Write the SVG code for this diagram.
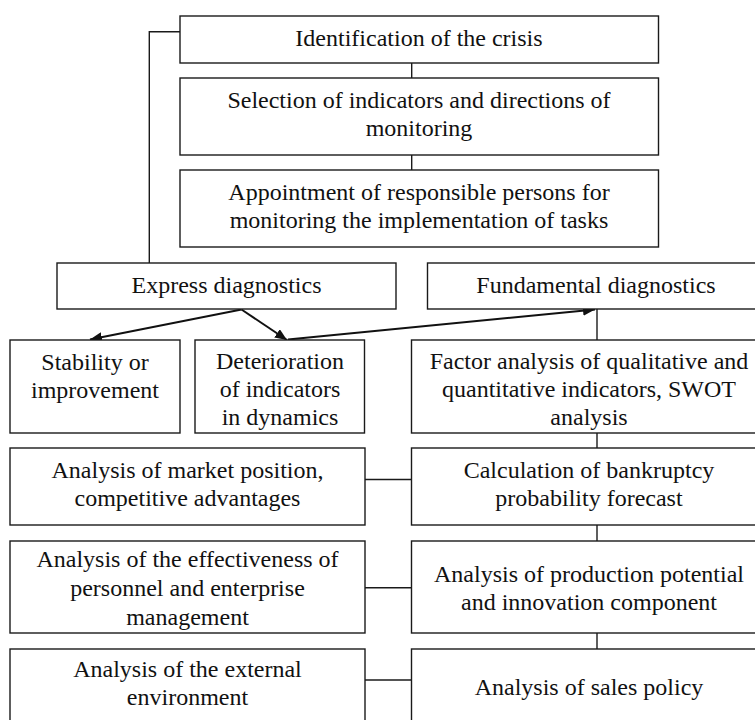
<svg xmlns="http://www.w3.org/2000/svg" width="755" height="720" viewBox="0 0 755 720">
<defs>
<style>
.box{fill:#fff;stroke:#1a1a1a;stroke-width:1.4}
.t{font-family:"Liberation Serif","Times New Roman",serif;font-size:24px;fill:#111;text-anchor:middle}
.ln{fill:none;stroke:#1a1a1a;stroke-width:1.4}
.ar{fill:none;stroke:#111;stroke-width:2}
</style>
<marker id="ah" markerUnits="userSpaceOnUse" markerWidth="14" markerHeight="10" refX="12" refY="5" orient="auto">
<path d="M0,0 L12,5 L0,10 Z" fill="#111"/>
</marker>
</defs>
<rect width="755" height="720" fill="#fff"/>
<g id="connectors">
<polyline class="ln" points="180,31.7 149.3,31.7 149.3,263"/>
<line class="ln" x1="411.7" y1="63" x2="411.7" y2="78"/>
<line class="ln" x1="411.7" y1="155" x2="411.7" y2="170"/>
<line class="ln" x1="597" y1="309" x2="597" y2="340"/>
<line class="ln" x1="597" y1="433" x2="597" y2="448"/>
<line class="ln" x1="597" y1="525" x2="597" y2="541"/>
<line class="ln" x1="597" y1="633" x2="597" y2="649"/>
<line class="ln" x1="365" y1="479.5" x2="411.5" y2="479.5"/>
<line class="ln" x1="365" y1="587.7" x2="411.5" y2="587.7"/>
<line class="ln" x1="365" y1="680" x2="411.5" y2="680"/>
<line class="ar" x1="241.5" y1="309.5" x2="90" y2="339.5" marker-end="url(#ah)"/>
<line class="ar" x1="241.5" y1="309.5" x2="287" y2="340" marker-end="url(#ah)"/>
<line class="ar" x1="288" y1="339.5" x2="595" y2="309.5" marker-end="url(#ah)"/>
</g>
<g id="n1"><rect class="box" x="180" y="16" width="478.5" height="47"/><text class="t" x="419" y="46">Identification of the crisis</text></g>
<g id="n2"><rect class="box" x="180" y="78" width="478.5" height="77"/><text class="t" x="419" y="108">Selection of indicators and directions of</text><text class="t" x="419" y="136">monitoring</text></g>
<g id="n3"><rect class="box" x="180" y="170" width="478.5" height="77"/><text class="t" x="419" y="200">Appointment of responsible persons for</text><text class="t" x="419" y="228">monitoring the implementation of tasks</text></g>
<g id="n4"><rect class="box" x="57" y="263" width="339" height="46"/><text class="t" x="226.5" y="293">Express diagnostics</text></g>
<g id="n5"><rect class="box" x="427.5" y="263" width="340" height="46"/><text class="t" x="596" y="293">Fundamental diagnostics</text></g>
<g id="n6"><rect class="box" x="10" y="340" width="170" height="93"/><text class="t" x="95" y="370">Stability or</text><text class="t" x="95" y="398">improvement</text></g>
<g id="n7"><rect class="box" x="195" y="340" width="169.5" height="93"/><text class="t" x="280" y="369">Deterioration</text><text class="t" x="280" y="397">of indicators</text><text class="t" x="280" y="425">in dynamics</text></g>
<g id="n8"><rect class="box" x="411.5" y="340" width="360" height="93"/><text class="t" x="589" y="369">Factor analysis of qualitative and</text><text class="t" x="589" y="397">quantitative indicators, SWOT</text><text class="t" x="589" y="425">analysis</text></g>
<g id="n9"><rect class="box" x="10" y="448" width="355" height="77"/><text class="t" x="187.5" y="478">Analysis of market position,</text><text class="t" x="187.5" y="506">competitive advantages</text></g>
<g id="n10"><rect class="box" x="411.5" y="448" width="360" height="77"/><text class="t" x="589" y="478">Calculation of bankruptcy</text><text class="t" x="589" y="506">probability forecast</text></g>
<g id="n11"><rect class="box" x="10" y="541" width="355" height="92"/><text class="t" x="187.5" y="567">Analysis of the effectiveness of</text><text class="t" x="187.5" y="596">personnel and enterprise</text><text class="t" x="187.5" y="625">management</text></g>
<g id="n12"><rect class="box" x="411.5" y="541" width="360" height="92"/><text class="t" x="589" y="582">Analysis of production potential</text><text class="t" x="589" y="610">and innovation component</text></g>
<g id="n13"><rect class="box" x="10" y="649" width="355" height="92"/><text class="t" x="187.5" y="677">Analysis of the external</text><text class="t" x="187.5" y="705">environment</text></g>
<g id="n14"><rect class="box" x="411.5" y="649" width="360" height="92"/><text class="t" x="589" y="695">Analysis of sales policy</text></g>
</svg>
